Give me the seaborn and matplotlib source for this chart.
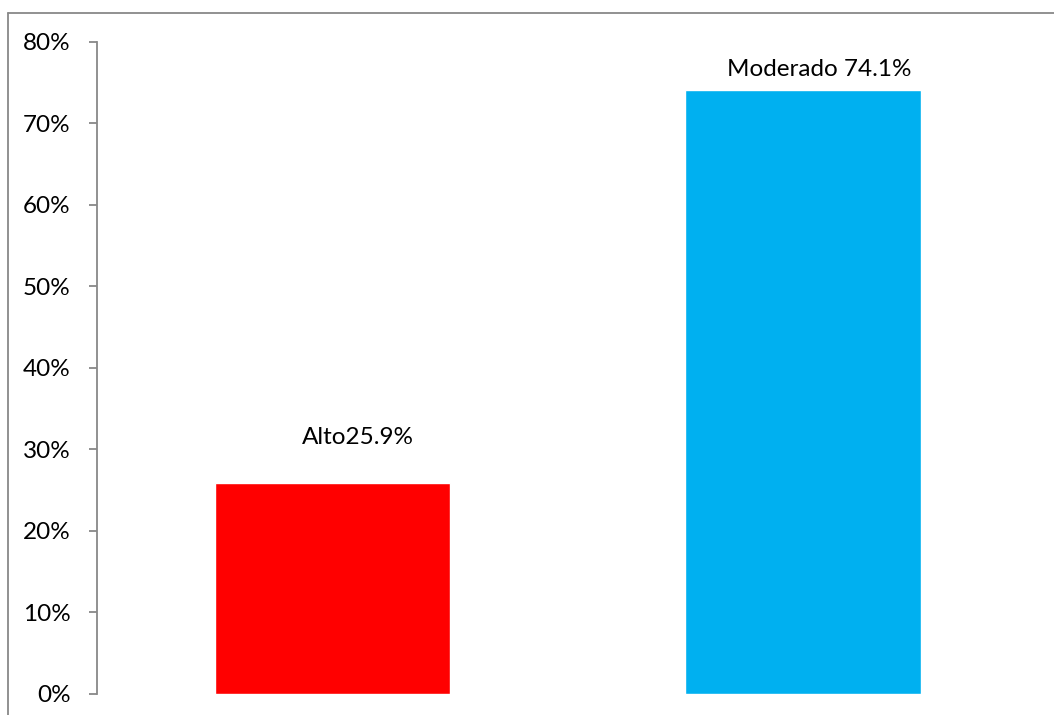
import matplotlib
matplotlib.use("Agg")
import matplotlib.pyplot as plt
import seaborn as sns
import pandas as pd
from matplotlib.lines import Line2D
from matplotlib.ticker import FuncFormatter

categories = ["Alto", "Moderado"]
values = [25.9, 74.1]
labels = ["Alto25.9%", "Moderado 74.1%"]
colors = ["#FF0000", "#00B0F0"]
yticks = [0, 10, 20, 30, 40, 50, 60, 70, 80]

df = pd.DataFrame({"nivel": categories, "pct": values})

sns.set_style("white")
plt.rcParams["font.family"] = ["Lato", "DejaVu Sans"]
plt.rcParams["text.color"] = "black"
plt.rcParams["ytick.labelcolor"] = "black"

fig = plt.figure(figsize=(10.54, 7.15), dpi=100)
ax = fig.add_axes([0.092, 0.0294, 0.8933, 0.9119])

sns.barplot(data=df, x="nivel", y="pct", hue="nivel", palette=colors,
            width=0.5, saturation=1, legend=False, ax=ax)

ax.set_xlim(-0.5, 1.5)
ax.set_ylim(0, 80)
ax.set_yticks(yticks)
ax.yaxis.set_major_formatter(FuncFormatter(lambda v, p: f"{v:.0f}%"))
ax.set_xticks([])
ax.set_xlabel("")
ax.set_ylabel("")
for s in ["top", "right", "bottom"]:
    ax.spines[s].set_visible(False)
ax.spines["left"].set_color("#888888")
ax.spines["left"].set_linewidth(1.3)
ax.tick_params(axis="y", length=6, width=1.3, color="#888888",
               labelsize=17.5, pad=13, left=True, labelcolor="black")

# labels above the bars
offsets = [(0.055, 31.5), (1.034, 76.6)]
for (x, y), txt in zip(offsets, labels):
    ax.text(x, y, txt, ha="center", va="center", fontsize=17.5, color="black")

# outer chart border (left and top visible)
fig.add_artist(Line2D([8 / 1054, 8 / 1054], [0, 1 - 12.5 / 715],
                      transform=fig.transFigure, color="#888888", lw=1.3))
fig.add_artist(Line2D([8 / 1054, 1], [1 - 12.5 / 715, 1 - 12.5 / 715],
                      transform=fig.transFigure, color="#888888", lw=1.3))

fig.savefig("out.png", dpi=100)
